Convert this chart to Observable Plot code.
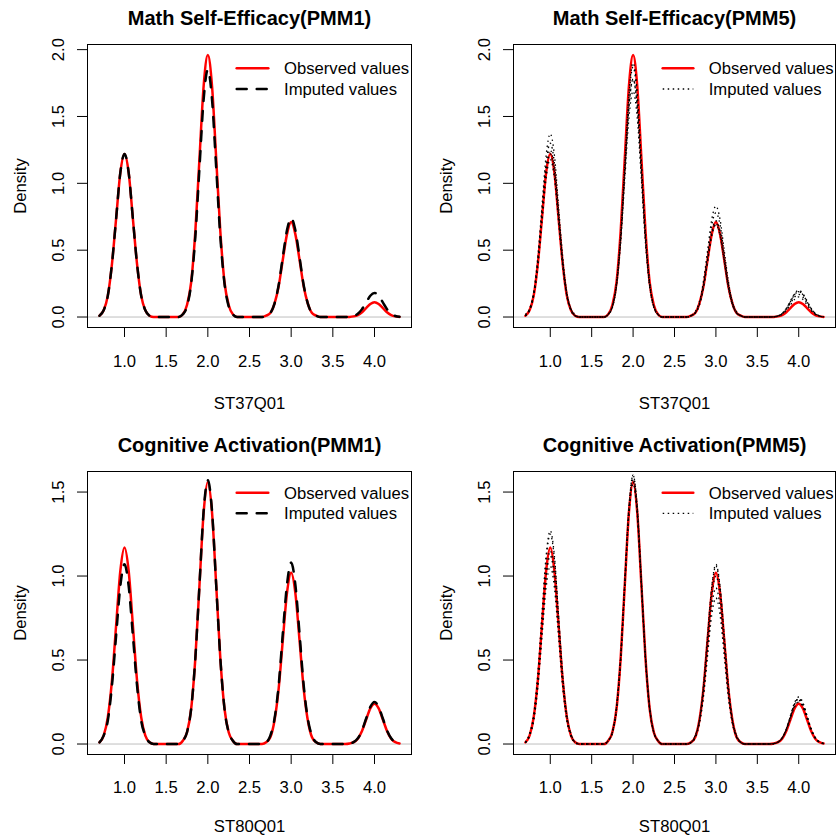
<!DOCTYPE html>
<html><head><meta charset="utf-8">
<script src="https://cdn.jsdelivr.net/npm/d3@7"></script>
<script src="https://cdn.jsdelivr.net/npm/@observablehq/plot@0.6"></script>
<style>
body{margin:0;background:#fff}
#chart{position:relative;width:838px;height:836px;overflow:hidden;background:#fff;font-family:"Liberation Sans",Arial,sans-serif}
.panel{position:absolute}
.panel svg{position:absolute;left:0;top:0;max-width:none}
</style></head><body><div id="chart"></div>
<script>
// shared x grid of the density estimates
const xs = [0.70,0.75,0.80,0.85,0.90,0.95,1.00,1.05,1.10,1.15,1.20,1.25,1.30,1.35,1.40,1.45,1.50,1.55,1.60,1.65,1.70,1.75,1.80,1.85,1.90,1.95,2.00,2.05,2.10,2.15,2.20,2.25,2.30,2.35,2.40,2.45,2.50,2.55,2.60,2.65,2.70,2.75,2.80,2.85,2.90,2.95,3.00,3.05,3.10,3.15,3.20,3.25,3.30,3.35,3.40,3.45,3.50,3.55,3.60,3.65,3.70,3.75,3.80,3.85,3.90,3.95,4.00,4.05,4.10,4.15,4.20,4.25,4.30];

// ST37Q01 densities
const mathObserved = [0.01,0.05,0.16,0.40,0.74,1.08,1.22,1.08,0.74,0.40,0.16,0.05,0.01, 0,0,0,0,0,0,0, 0.02,0.09,0.26,0.64,1.19,1.73,1.96,1.73,1.19,0.64,0.26,0.09,0.02, 0,0,0,0,0,0,0, 0.01,0.03,0.10,0.23,0.43,0.62,0.71,0.62,0.43,0.23,0.10,0.03,0.01, 0,0,0,0,0,0,0, 0.001,0.005,0.015,0.036,0.067,0.097,0.11,0.097,0.067,0.036,0.015,0.005,0.001];
const mathImputedPMM1 = [0.01,0.05,0.16,0.40,0.74,1.08,1.22,1.08,0.74,0.40,0.16,0.05,0.01, 0,0,0,0,0,0,0, 0.02,0.08,0.25,0.60,1.12,1.63,1.85,1.63,1.12,0.60,0.25,0.08,0.02, 0,0,0,0,0,0,0, 0.01,0.03,0.10,0.24,0.45,0.65,0.74,0.65,0.45,0.24,0.10,0.03,0.01, 0,0,0,0,0,0,0, 0.002,0.008,0.024,0.059,0.109,0.159,0.18,0.159,0.109,0.059,0.024,0.008,0.002];
const mathImputedPMM5 = [
  [0.02,0.06,0.18,0.45,0.83,1.21,1.37,1.21,0.83,0.45,0.18,0.06,0.02, 0,0,0,0,0,0,0, 0.02,0.07,0.23,0.55,1.03,1.49,1.69,1.49,1.03,0.55,0.23,0.07,0.02, 0,0,0,0,0,0,0, 0.01,0.03,0.11,0.25,0.47,0.69,0.78,0.69,0.47,0.25,0.11,0.03,0.01, 0,0,0,0,0,0,0, 0.002,0.007,0.020,0.049,0.091,0.132,0.15,0.132,0.091,0.049,0.020,0.007,0.002],
  [0.01,0.05,0.16,0.40,0.74,1.08,1.22,1.08,0.74,0.40,0.16,0.05,0.01, 0,0,0,0,0,0,0, 0.02,0.08,0.26,0.62,1.15,1.68,1.90,1.68,1.15,0.62,0.26,0.08,0.02, 0,0,0,0,0,0,0, 0.01,0.03,0.09,0.23,0.42,0.62,0.70,0.62,0.42,0.23,0.09,0.03,0.01, 0,0,0,0,0,0,0, 0.002,0.007,0.023,0.055,0.103,0.150,0.17,0.150,0.103,0.055,0.023,0.007,0.002],
  [0.01,0.06,0.17,0.41,0.76,1.10,1.25,1.10,0.76,0.41,0.17,0.06,0.01, 0,0,0,0,0,0,0, 0.02,0.08,0.25,0.61,1.14,1.65,1.87,1.65,1.14,0.61,0.25,0.08,0.02, 0,0,0,0,0,0,0, 0.01,0.03,0.09,0.22,0.42,0.61,0.69,0.61,0.42,0.22,0.09,0.03,0.01, 0,0,0,0,0,0,0, 0.002,0.008,0.026,0.062,0.115,0.168,0.19,0.168,0.115,0.062,0.026,0.008,0.002],
  [0.01,0.06,0.18,0.42,0.79,1.15,1.30,1.15,0.79,0.42,0.18,0.06,0.01, 0,0,0,0,0,0,0, 0.02,0.08,0.24,0.58,1.08,1.57,1.78,1.57,1.08,0.58,0.24,0.08,0.02, 0,0,0,0,0,0,0, 0.01,0.03,0.10,0.23,0.44,0.64,0.72,0.64,0.44,0.23,0.10,0.03,0.01, 0,0,0,0,0,0,0, 0.002,0.008,0.026,0.062,0.115,0.168,0.19,0.168,0.115,0.062,0.026,0.008,0.002],
  [0.01,0.05,0.16,0.38,0.72,1.04,1.18,1.04,0.72,0.38,0.16,0.05,0.01, 0,0,0,0,0,0,0, 0.02,0.08,0.24,0.58,1.08,1.57,1.78,1.57,1.08,0.58,0.24,0.08,0.02, 0,0,0,0,0,0,0, 0.01,0.04,0.11,0.27,0.50,0.73,0.83,0.73,0.50,0.27,0.11,0.04,0.01, 0,0,0,0,0,0,0, 0.002,0.009,0.027,0.065,0.121,0.176,0.20,0.176,0.121,0.065,0.027,0.009,0.002]
];

// ST80Q01 densities
const cogObserved = [0.01,0.05,0.16,0.38,0.71,1.03,1.17,1.03,0.71,0.38,0.16,0.05,0.01, 0,0,0,0,0,0,0, 0.02,0.07,0.21,0.51,0.95,1.38,1.56,1.38,0.95,0.51,0.21,0.07,0.02, 0,0,0,0,0,0,0, 0.01,0.04,0.14,0.33,0.62,0.90,1.02,0.90,0.62,0.33,0.14,0.04,0.01, 0,0,0,0,0,0,0, 0.003,0.011,0.032,0.078,0.146,0.212,0.24,0.212,0.146,0.078,0.032,0.011,0.003];
const cogImputedPMM1 = [0.01,0.05,0.14,0.35,0.65,0.94,1.07,0.94,0.65,0.35,0.14,0.05,0.01, 0,0,0,0,0,0,0, 0.02,0.07,0.21,0.51,0.95,1.39,1.57,1.39,0.95,0.51,0.21,0.07,0.02, 0,0,0,0,0,0,0, 0.01,0.05,0.15,0.35,0.66,0.95,1.08,0.95,0.66,0.35,0.15,0.05,0.01, 0,0,0,0,0,0,0, 0.003,0.011,0.034,0.081,0.152,0.221,0.25,0.221,0.152,0.081,0.034,0.011,0.003];
const cogImputedPMM5 = [
  [0.01,0.06,0.17,0.41,0.77,1.12,1.27,1.12,0.77,0.41,0.17,0.06,0.01, 0,0,0,0,0,0,0, 0.02,0.07,0.21,0.50,0.94,1.37,1.55,1.37,0.94,0.50,0.21,0.07,0.02, 0,0,0,0,0,0,0, 0.01,0.04,0.13,0.30,0.56,0.82,0.93,0.82,0.56,0.30,0.13,0.04,0.01, 0,0,0,0,0,0,0, 0.003,0.011,0.034,0.081,0.152,0.221,0.25,0.221,0.152,0.081,0.034,0.011,0.003],
  [0.01,0.05,0.14,0.34,0.64,0.93,1.06,0.93,0.64,0.34,0.14,0.05,0.01, 0,0,0,0,0,0,0, 0.02,0.07,0.22,0.52,0.97,1.41,1.60,1.41,0.97,0.52,0.22,0.07,0.02, 0,0,0,0,0,0,0, 0.01,0.05,0.14,0.35,0.65,0.94,1.07,0.94,0.65,0.35,0.14,0.05,0.01, 0,0,0,0,0,0,0, 0.003,0.012,0.036,0.088,0.164,0.238,0.27,0.238,0.164,0.088,0.036,0.012,0.003],
  [0.01,0.05,0.15,0.36,0.68,0.99,1.12,0.99,0.68,0.36,0.15,0.05,0.01, 0,0,0,0,0,0,0, 0.02,0.07,0.21,0.51,0.95,1.38,1.56,1.38,0.95,0.51,0.21,0.07,0.02, 0,0,0,0,0,0,0, 0.01,0.05,0.14,0.34,0.64,0.93,1.06,0.93,0.64,0.34,0.14,0.05,0.01, 0,0,0,0,0,0,0, 0.003,0.011,0.035,0.085,0.158,0.229,0.26,0.229,0.158,0.085,0.035,0.011,0.003],
  [0.01,0.05,0.16,0.37,0.70,1.01,1.15,1.01,0.70,0.37,0.16,0.05,0.01, 0,0,0,0,0,0,0, 0.02,0.07,0.21,0.51,0.96,1.39,1.58,1.39,0.96,0.51,0.21,0.07,0.02, 0,0,0,0,0,0,0, 0.01,0.04,0.14,0.33,0.61,0.88,1.00,0.88,0.61,0.33,0.14,0.04,0.01, 0,0,0,0,0,0,0, 0.003,0.012,0.036,0.088,0.164,0.238,0.27,0.238,0.164,0.088,0.036,0.012,0.003],
  [0.01,0.06,0.17,0.41,0.76,1.10,1.25,1.10,0.76,0.41,0.17,0.06,0.01, 0,0,0,0,0,0,0, 0.02,0.07,0.22,0.52,0.97,1.41,1.60,1.41,0.97,0.52,0.22,0.07,0.02, 0,0,0,0,0,0,0, 0.01,0.04,0.12,0.28,0.53,0.77,0.87,0.77,0.53,0.28,0.12,0.04,0.01, 0,0,0,0,0,0,0, 0.003,0.012,0.038,0.091,0.170,0.247,0.28,0.247,0.170,0.091,0.038,0.012,0.003]
];

const xTicks = [1.0,1.5,2.0,2.5,3.0,3.5,4.0];
const yTicksMath = [0,0.5,1.0,1.5,2.0];
const yTicksCog = [0,0.5,1.0,1.5];
const legendLabels = ["Observed values","Imputed values"];

const FONT = '"Liberation Sans", Arial, Helvetica, sans-serif';
const styles = {
  dashed: {strokeWidth: 2.5, strokeDasharray: "10,10", strokeLinecap: "round"},
  dotted: {strokeWidth: 1.3, strokeDasharray: "1.5,3.5", strokeLinecap: "butt"}
};

const panels = [
  {ox:0, oy:0, w:426, h:426, ml:87, mr:15, mt:44, mb:99, tp:18, xl:81, title:"Math Self-Efficacy(PMM1)", xlabel:"ST37Q01",
   obs:mathObserved, imp:[mathImputedPMM1], lty:"dashed", yTicks:yTicksMath, lgY:[68.3,89], lgX:[236.7,268.3,284]},
  {ox:426, oy:0, w:412, h:426, ml:87, mr:3, mt:44, mb:99, tp:18, xl:81, title:"Math Self-Efficacy(PMM5)", xlabel:"ST37Q01",
   obs:mathObserved, imp:mathImputedPMM5, lty:"dotted", yTicks:yTicksMath, lgY:[68.3,89], lgX:[236.7,267.3,282.7]},
  {ox:0, oy:427, w:426, h:409, ml:87, mr:15, mt:44, mb:82, tp:16.5, xl:77.5, title:"Cognitive Activation(PMM1)", xlabel:"ST80Q01",
   obs:cogObserved, imp:[cogImputedPMM1], lty:"dashed", yTicks:yTicksCog, lgY:[65.7,86.3], lgX:[236.7,268.3,284]},
  {ox:426, oy:427, w:412, h:409, ml:87, mr:3, mt:44, mb:82, tp:16.5, xl:77.5, title:"Cognitive Activation(PMM5)", xlabel:"ST80Q01",
   obs:cogObserved, imp:cogImputedPMM5, lty:"dotted", yTicks:yTicksCog, lgY:[65.7,86.3], lgX:[236.7,267.3,282.7]}
];

const chart = document.getElementById("chart");
const [xmin, xmax] = d3.extent(xs);
const xpad = 0.04 * (xmax - xmin);

for (const p of panels) {
  const m = d3.max(p.obs);
  const obsRows = xs.map((x, i) => ({x, y: p.obs[i]}));
  const impRows = p.imp.flatMap((arr, k) => xs.map((x, i) => ({x, y: arr[i], s: k})));
  const st = styles[p.lty];
  const svg = Plot.plot({
    width: p.w, height: p.h,
    marginLeft: p.ml, marginRight: p.mr, marginTop: p.mt, marginBottom: p.mb,
    x: {domain: [xmin - xpad, xmax + xpad]},
    y: {domain: [-0.04 * m, 1.04 * m]},
    style: {fontFamily: FONT, fontSize: "16.67px", color: "black", background: "white", overflow: "visible"},
    marks: [
      Plot.ruleY([0], {stroke: "#bebebe", strokeWidth: 1}),
      Plot.line(obsRows, {x: "x", y: "y", stroke: "#ff0000", strokeWidth: 2.5, curve: "monotone-x"}),
      Plot.line(impRows, {x: "x", y: "y", z: "s", stroke: "black", curve: "monotone-x", ...st}),
      Plot.frame({stroke: "black", strokeWidth: 1}),
      Plot.axisX({ticks: xTicks, tickSize: 10, tickPadding: p.tp, tickFormat: d3.format(".1f"), label: null, fontSize: 16.67}),
      Plot.axisY({ticks: p.yTicks, tickSize: 10, tickPadding: 14, tickRotate: -90, tickFormat: d3.format(".1f"), label: null, fontSize: 16.67}),
      Plot.text([p.title], {text: d => d, frameAnchor: "top", dy: -19.7, lineAnchor: "bottom", textAnchor: "middle", fontSize: 20, fontWeight: "bold"}),
      Plot.text([p.xlabel], {text: d => d, frameAnchor: "bottom", dy: p.xl, lineAnchor: "bottom", textAnchor: "middle", fontSize: 16.67}),
      Plot.text(["Density"], {text: d => d, frameAnchor: "left", dx: -62, rotate: -90, lineAnchor: "bottom", textAnchor: "middle", fontSize: 16.67})
    ]
  });
  const div = document.createElement("div");
  div.className = "panel";
  div.style.left = p.ox + "px";
  div.style.top = p.oy + "px";
  div.style.width = p.w + "px";
  div.style.height = p.h + "px";
  div.appendChild(svg);

  // legend (bty = "n")
  const lg = d3.create("svg").attr("width", p.w).attr("height", p.h)
    .style("position", "absolute").style("left", "0px").style("top", "0px").style("overflow", "visible");
  lg.append("line").attr("x1", p.lgX[0]).attr("x2", p.lgX[1]).attr("y1", p.lgY[0]).attr("y2", p.lgY[0])
    .attr("stroke", "#ff0000").attr("stroke-width", 2.5).attr("stroke-linecap", "round");
  lg.append("line").attr("x1", p.lgX[0]).attr("x2", p.lgX[1]).attr("y1", p.lgY[1]).attr("y2", p.lgY[1])
    .attr("stroke", "black").attr("stroke-width", st.strokeWidth).attr("stroke-dasharray", st.strokeDasharray)
    .attr("stroke-linecap", st.strokeLinecap);
  legendLabels.forEach((t, i) => {
    lg.append("text").attr("x", p.lgX[2]).attr("y", p.lgY[i]).attr("dy", "0.35em")
      .attr("font-family", FONT).attr("font-size", 16.67).attr("fill", "black").text(t);
  });
  div.appendChild(lg.node());
  chart.appendChild(div);
}
</script></body></html>
